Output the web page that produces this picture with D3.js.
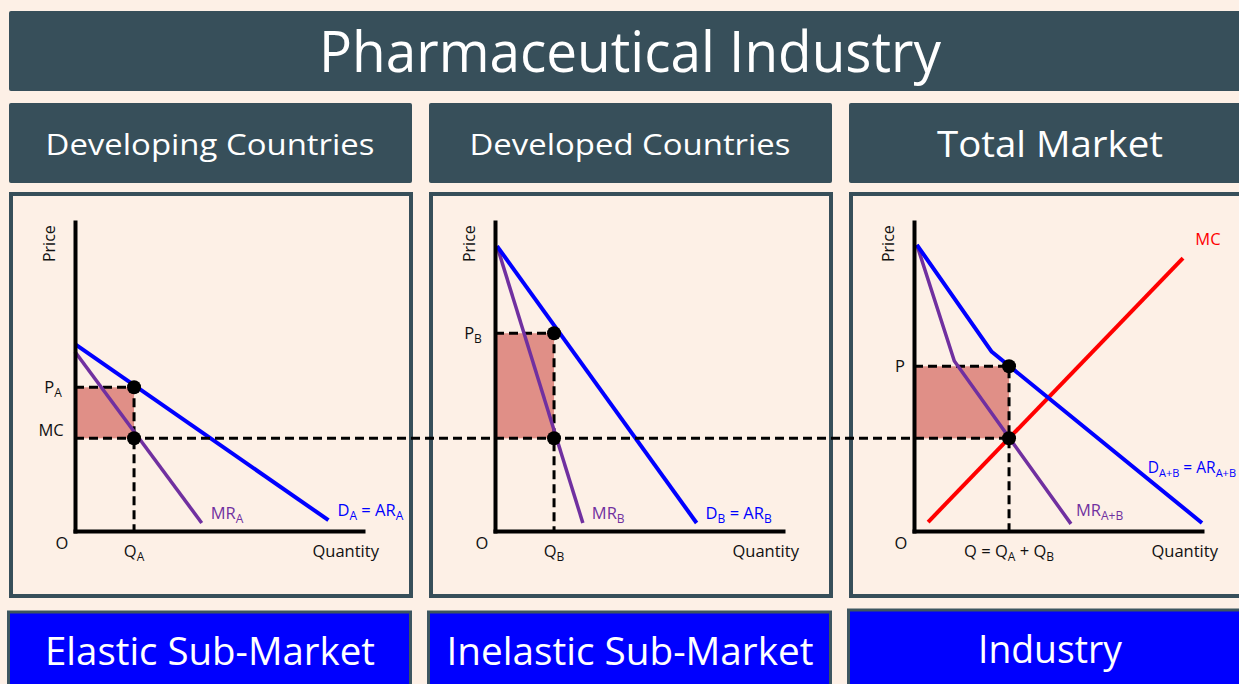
<html>
<head>
<meta charset="utf-8">
<script src="https://d3js.org/d3.v7.min.js"></script>
<style>
body { margin: 0; background: #fdf0e6; }
svg { display: block; font-family: "Open Sans", sans-serif; }
text { white-space: pre; }
</style>
</head>
<body>
<script>
// ---- data (chart units: 0..100 on both axes of each panel) ----
var mainTitle = "Pharmaceutical Industry";
var panelTitles = ["Developing Countries", "Developed Countries", "Total Market"];
var marketLabels = ["Elastic Sub-Market", "Inelastic Sub-Market", "Industry"];

var mcLevel = 30;

var demandA = [[0, 60.5], [88, 3.5]];
var mrA = [[0, 58], [44, 2.6]];
var qA = 20.5, pA = 46.5;

var demandB = [[0.7, 92.2], [70, 2.6]];
var mrB = [[0.7, 92.2], [30.5, 2.6]];
var qB = 20.5, pB = 64;

var demandAB = [[1, 92.6], [27, 58], [100, 2.6]];
var mrAB = [[1, 92.6], [14, 55], [54.5, 2.3]];
var mcAB = [[4.9, 2.9], [93.4, 88.3]];
var qAB = 33, pAB = 53.3;

// ---- layout ----
var W = 1239, H = 684;
var slate = "#374f5a", blue = "#0000ff", purple = "#7030a0", red = "#ff0000", shade = "#e08f87";
var boxX = [9, 429, 849];
var originX = [75, 495, 914];
var fs = 16.5;

var svg = d3.select("body").append("svg").attr("width", W).attr("height", H);
svg.append("rect").attr("width", W).attr("height", H).attr("fill", "#fdf0e6");

// title bar
svg.append("rect").attr("x", 9).attr("y", 11).attr("width", 1245).attr("height", 80).attr("rx", 2).attr("fill", slate);
svg.append("text").attr("x", 630).attr("y", 72).attr("text-anchor", "middle").attr("fill", "white")
  .attr("font-size", 56).attr("textLength", 622).attr("lengthAdjust", "spacingAndGlyphs").text(mainTitle);

// sub-headers
var headSize = [29, 29, 37], headLen = [329, 321, 226], headBase = [155, 155, 157];
panelTitles.forEach(function(t, i) {
  svg.append("rect").attr("x", boxX[i]).attr("y", 103).attr("width", 403).attr("height", 80).attr("rx", 2).attr("fill", slate);
  svg.append("text").attr("x", boxX[i] + 201).attr("y", headBase[i]).attr("text-anchor", "middle").attr("fill", "white")
    .attr("font-size", headSize[i]).attr("textLength", headLen[i]).attr("lengthAdjust", "spacingAndGlyphs").text(t);
});

// bottom labels
var footLen = [330, 367, 144], footTop = [612, 612, 610], footBase = [665, 665, 663];
marketLabels.forEach(function(t, i) {
  svg.append("rect").attr("x", boxX[i] - 0.5).attr("y", footTop[i]).attr("width", 402).attr("height", 90)
    .attr("fill", blue).attr("stroke", "#3d5660").attr("stroke-width", 3);
  svg.append("text").attr("x", boxX[i] + 201).attr("y", footBase[i]).attr("text-anchor", "middle").attr("fill", "white")
    .attr("font-size", 38).attr("textLength", footLen[i]).attr("lengthAdjust", "spacingAndGlyphs").text(t);
});

// panel frames
boxX.forEach(function(bx) {
  svg.append("rect").attr("x", bx + 2).attr("y", 194).attr("width", 400).attr("height", 402)
    .attr("fill", "#fdf0e6").attr("stroke", slate).attr("stroke-width", 4);
});

function label(g, px, py, parts, color, size, anchor) {
  var t = g.append("text").attr("x", px).attr("y", py).attr("fill", color)
    .attr("font-size", size).attr("text-anchor", anchor || "start");
  var sub = false;
  parts.forEach(function(p) {
    var ts = t.append("tspan").text(p[0]);
    if (p[1]) ts.attr("font-size", Math.round(size * 0.7));
    if (p[1] && !sub) ts.attr("dy", 4);
    if (!p[1] && sub) ts.attr("dy", -4);
    sub = p[1];
  });
  return t;
}

var panels = [
  { demand: demandA, mr: mrA, q: qA, p: pA, sub: "A", mc: null },
  { demand: demandB, mr: mrB, q: qB, p: pB, sub: "B", mc: null },
  { demand: demandAB, mr: mrAB, q: qAB, p: pAB, sub: "A+B", mc: mcAB }
];

var scales = [];
panels.forEach(function(d, i) {
  var x = d3.scaleLinear().domain([0, 100]).range([originX[i], originX[i] + 288]);
  var y = d3.scaleLinear().domain([0, 100]).range([531, 222]);
  scales.push({ x: x, y: y });
  var g = svg.append("g");
  var line = d3.line().x(function(v) { return x(v[0]); }).y(function(v) { return y(v[1]); });

  // monopoly profit area
  g.append("rect").attr("x", x(0)).attr("y", y(d.p)).attr("width", x(d.q) - x(0)).attr("height", y(mcLevel) - y(d.p))
    .attr("fill", shade);

  // price and quantity guides
  g.append("path").attr("d", line([[0, d.p], [d.q, d.p], [d.q, 0]]))
    .attr("fill", "none").attr("stroke", "black").attr("stroke-width", 3).attr("stroke-dasharray", "9,5");

  if (d.mc) g.append("path").attr("d", line(d.mc)).attr("fill", "none").attr("stroke", red).attr("stroke-width", 4);
  g.append("path").attr("d", line(d.mr)).attr("fill", "none").attr("stroke", purple).attr("stroke-width", 3.5);
  g.append("path").attr("d", line(d.demand)).attr("fill", "none").attr("stroke", blue).attr("stroke-width", 4)
    .attr("stroke-linejoin", "round");

  // axes
  g.append("g").attr("transform", "translate(" + x(0) + ",0)")
    .call(d3.axisLeft(y).tickValues([]).tickSizeOuter(0))
    .select(".domain").attr("stroke", "black").attr("stroke-width", 4).attr("stroke-linecap", "square");
  g.append("g").attr("transform", "translate(0," + y(0) + ")")
    .call(d3.axisBottom(x).tickValues([]).tickSizeOuter(0))
    .select(".domain").attr("stroke", "black").attr("stroke-width", 4).attr("stroke-linecap", "square");

  // axis labels
  g.append("text").attr("transform", "translate(" + (x(0) - 20) + "," + y(93) + ") rotate(-90)")
    .attr("text-anchor", "middle").attr("font-size", 16).attr("fill", "#111").text("Price");
  g.append("text").attr("x", x(0) - 13).attr("y", 549).attr("text-anchor", "middle").attr("font-size", fs).attr("fill", "#111").text("O");
  g.append("text").attr("x", x(94)).attr("y", 557).attr("text-anchor", "middle").attr("font-size", fs).attr("fill", "#111").text("Quantity");

  var end = d.demand[d.demand.length - 1], mrEnd = d.mr[d.mr.length - 1];
  if (i < 2) {
    label(g, x(0) - 22, y(d.p) + 6, [["P", 0], [d.sub, 1]], "#111", fs, "middle");
    label(g, x(d.q), 557, [["Q", 0], [d.sub, 1]], "#111", fs, "middle");
    label(g, x(mrEnd[0]) + 9, y(mrEnd[1]) - 4, [["MR", 0], [d.sub, 1]], purple, fs);
    label(g, x(end[0]) + 9, y(end[1]) - 4, [["D", 0], [d.sub, 1], [" = AR", 0], [d.sub, 1]], blue, fs);
  } else {
    label(g, x(0) - 14, y(d.p) + 6, [["P", 0]], "#111", fs, "middle");
    label(g, x(d.q), 557, [["Q = Q", 0], ["A", 1], [" + Q", 0], ["B", 1]], "#111", fs, "middle");
    label(g, x(mrEnd[0]) + 5, y(mrEnd[1]) - 8, [["MR", 0], [d.sub, 1]], purple, fs);
    label(g, W - 3, y(end[1]) - 50, [["D", 0], [d.sub, 1], [" = AR", 0], [d.sub, 1]], blue, 15.5, "end");
    var mcEnd = d.mc[d.mc.length - 1];
    label(g, x(mcEnd[0]) + 25, y(mcEnd[1]) - 13, [["MC", 0]], red, fs, "middle");
  }
});

// MC label on the first panel and the shared marginal cost line
label(svg, scales[0].x(0) - 24, scales[0].y(mcLevel) - 2, [["MC", 0]], "#111", fs, "middle");
svg.append("line")
  .attr("x1", scales[0].x(0)).attr("x2", scales[2].x(qAB))
  .attr("y1", scales[0].y(mcLevel)).attr("y2", scales[0].y(mcLevel))
  .attr("stroke", "black").attr("stroke-width", 3).attr("stroke-dasharray", "9,5");

// equilibrium points
panels.forEach(function(d, i) {
  var s = scales[i];
  svg.append("circle").attr("cx", s.x(d.q)).attr("cy", s.y(d.p)).attr("r", 7).attr("fill", "black");
  svg.append("circle").attr("cx", s.x(d.q)).attr("cy", s.y(mcLevel)).attr("r", 7).attr("fill", "black");
});
</script>
</body>
</html>
